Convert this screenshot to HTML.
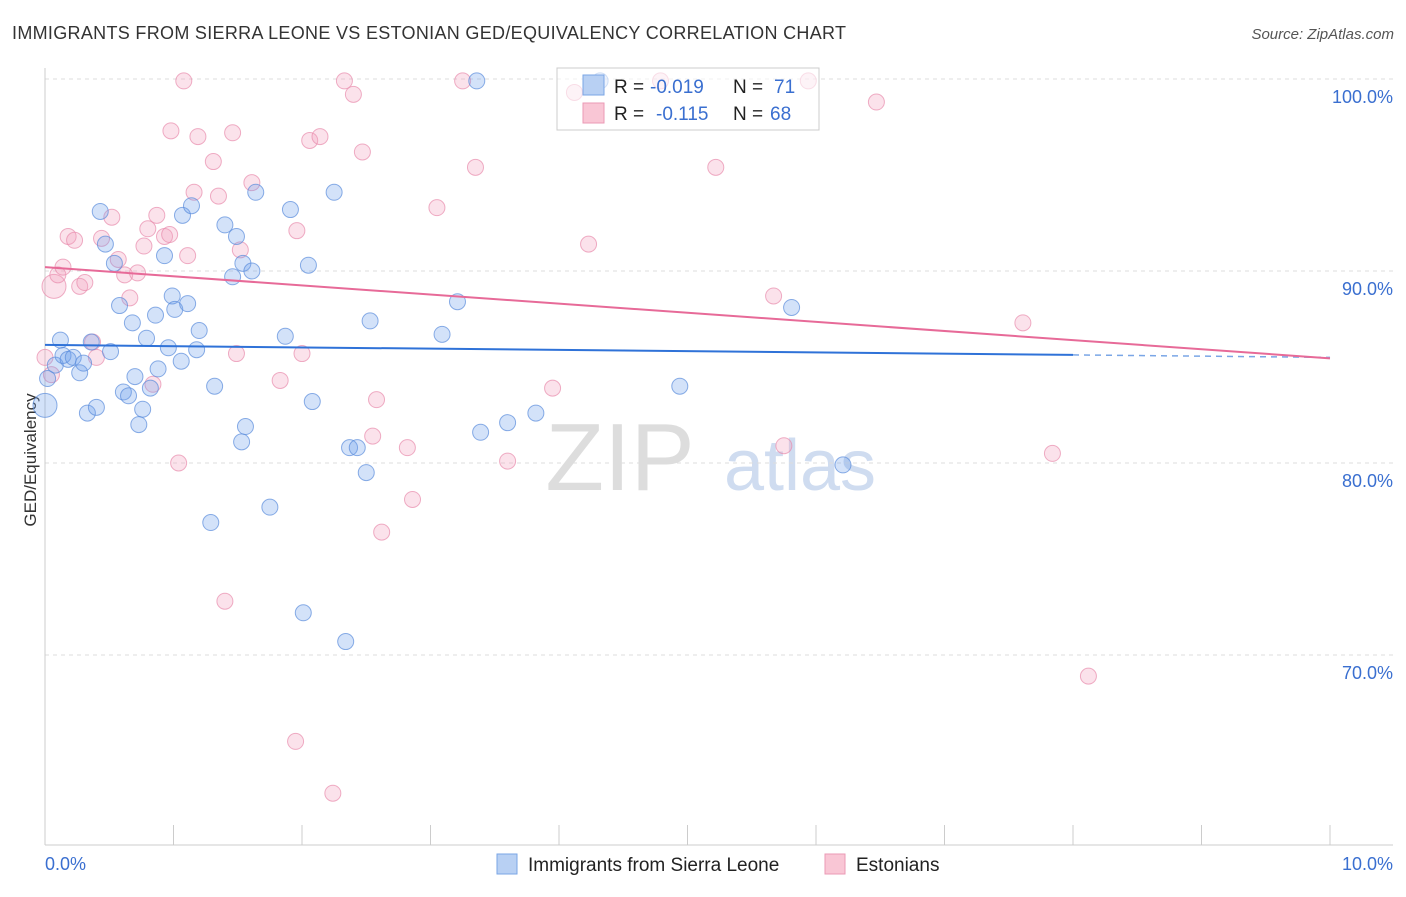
<!DOCTYPE html>
<html><head><meta charset="utf-8"><style>
body{margin:0;background:#fff;font-family:"Liberation Sans",sans-serif;}
svg text{font-family:"Liberation Sans",sans-serif;}
</style></head><body>
<svg id="c" width="1406" height="892" xmlns="http://www.w3.org/2000/svg">
<text x="12" y="39" font-size="18" fill="#333" textLength="834">IMMIGRANTS FROM SIERRA LEONE VS ESTONIAN GED/EQUIVALENCY CORRELATION CHART</text>
<text x="1394" y="39" font-size="15" fill="#555" font-style="italic" text-anchor="end">Source: ZipAtlas.com</text>
<text x="36" y="460" font-size="17" fill="#333" transform="rotate(-90 36 460)" text-anchor="middle">GED/Equivalency</text>
<text x="620" y="490" font-size="96" fill="#ddd" font-family="Liberation Serif" text-anchor="middle">ZIP</text>
<text x="800" y="490" font-size="72" fill="#cfdcf0" text-anchor="middle">atlas</text>
<g id="grid"></g><g id="pts"></g><g id="trend"></g>
<g>
<rect x="557" y="68" width="262" height="62" fill="rgba(255,255,255,0.6)" stroke="#ccc"/>
<rect x="583" y="75" width="21" height="20" fill="#b8d0f3" stroke="#7aa6e6"/>
<rect x="583" y="103" width="21" height="20" fill="#f9c6d5" stroke="#eb9ab5"/>
<text x="614" y="93" font-size="19" fill="#222">R =</text>
<text x="650" y="93" font-size="19" fill="#3a6fd0">-0.019</text>
<text x="733" y="93" font-size="19" fill="#222">N =</text>
<text x="774" y="93" font-size="19" fill="#3a6fd0">71</text>
<text x="614" y="120" font-size="19" fill="#222">R =</text>
<text x="656" y="120" font-size="19" fill="#3a6fd0">-0.115</text>
<text x="733" y="120" font-size="19" fill="#222">N =</text>
<text x="770" y="120" font-size="19" fill="#3a6fd0">68</text>
</g>
<g>
<rect x="497" y="854" width="20" height="20" fill="#b8d0f3" stroke="#7aa6e6"/>
<text x="528" y="871" font-size="19" fill="#222">Immigrants from Sierra Leone</text>
<rect x="825" y="854" width="20" height="20" fill="#f9c6d5" stroke="#eb9ab5"/>
<text x="856" y="871" font-size="19" fill="#222">Estonians</text>
</g>
<text x="45" y="870" font-size="18" fill="#3a6fd0">0.0%</text>
<text x="1393" y="870" font-size="18" fill="#3a6fd0" text-anchor="end">10.0%</text>
</svg>
<script>
const blueX=[0,0.02,0.08,0.12,0.14,0.18,0.22,0.27,0.30,0.33,0.40,0.36,0.43,0.47,0.51,0.54,0.58,0.61,0.65,0.68,0.70,0.73,0.76,0.79,0.82,0.86,0.88,0.93,0.96,0.99,1.01,1.07,1.06,1.11,1.14,1.18,1.20,1.29,1.32,1.40,1.46,1.49,1.53,1.54,1.56,1.61,1.64,1.75,1.87,1.91,2.01,2.05,2.08,2.25,2.34,2.37,2.43,2.50,2.53,3.09,3.21,3.36,3.39,3.60,3.82,4.32,4.94,5.81,6.21];
const blueY=[83.0,84.4,85.1,86.4,85.6,85.4,85.5,84.7,85.2,82.6,82.9,86.3,93.1,91.4,85.8,90.4,88.2,83.7,83.5,87.3,84.5,82.0,82.8,86.5,83.9,87.7,84.9,90.8,86.0,88.7,88.0,92.9,85.3,88.3,93.4,85.9,86.9,76.9,84.0,92.4,89.7,91.8,81.1,90.4,81.9,90.0,94.1,77.7,86.6,93.2,72.2,90.3,83.2,94.1,70.7,80.8,80.8,79.5,87.4,86.7,88.4,99.9,81.6,82.1,82.6,99.9,84.0,88.1,79.9];
const pinkX=[0,0.05,0.07,0.10,0.14,0.18,0.23,0.27,0.31,0.37,0.40,0.44,0.52,0.57,0.62,0.66,0.72,0.77,0.80,0.84,0.87,0.93,0.97,0.98,1.04,1.08,1.11,1.16,1.19,1.31,1.35,1.40,1.46,1.49,1.52,1.61,1.83,1.95,1.96,2.00,2.06,2.14,2.24,2.33,2.40,2.47,2.55,2.58,2.62,2.82,2.86,3.05,3.25,3.35,3.60,3.95,4.12,4.23,4.79,5.22,5.67,5.75,5.94,6.47,7.61,7.84,8.12];
const pinkY=[85.5,84.6,89.2,89.8,90.2,91.8,91.6,89.2,89.4,86.3,85.5,91.7,92.8,90.6,89.8,88.6,89.9,91.3,92.2,84.1,92.9,91.8,91.9,97.3,80.0,99.9,90.8,94.1,97.0,95.7,93.9,72.8,97.2,85.7,91.1,94.6,84.3,65.5,92.1,85.7,96.8,97.0,62.8,99.9,99.2,96.2,81.4,83.3,76.4,80.8,78.1,93.3,99.9,95.4,80.1,83.9,99.3,91.4,99.9,95.4,88.7,80.9,99.9,98.8,87.3,80.5,68.9];
const yTicks=[100,90,80,70];
const yTickLabels=["100.0%","90.0%","80.0%","70.0%"];
const blueTrend=[86.15,85.5];
const pinkTrend=[90.2,85.45];
const NS="http://www.w3.org/2000/svg";
const X=v=>45+v*128.5, Y=v=>79+(100-v)*19.2;
function mk(t,a,p){const e=document.createElementNS(NS,t);for(const k in a)e.setAttribute(k,a[k]);p.appendChild(e);return e;}
const g=document.getElementById('grid');
yTicks.forEach((t,i)=>{
 const l=mk('line',{x1:45,x2:1393,y1:Y(t),y2:Y(t),stroke:'#ddd','stroke-dasharray':'4,4'},g);
 
 
 const tx=mk('text',{x:1393,y:Y(t)+24,'font-size':18,fill:'#3a6fd0','text-anchor':'end'},g);
 tx.textContent=yTickLabels[i];
 
 
});
mk('line',{x1:45,x2:45,y1:68,y2:845,stroke:'#ccc'},g);
mk('line',{x1:45,x2:1393,y1:845,y2:845,stroke:'#ccc'},g);
for(let i=0;i<=10;i++){const t=mk('line',{x1:X(i),x2:X(i),y1:825,y2:845,stroke:'#ccc'},g);
 
 }
const p=document.getElementById('pts');
function pts(xs,ys,f,s,n){xs.forEach((x,i)=>{const r=(i===0&&n==='blue-point')||(i===2&&n==='pink-point')?12:8;
 const c=mk('circle',{cx:X(x),cy:Y(ys[i]),r:r,fill:f,stroke:s,'stroke-width':1},p);
 
 });}
pts(pinkX,pinkY,'rgba(243,160,190,0.3)','rgba(232,140,172,0.7)','pink-point');
pts(blueX,blueY,'rgba(110,160,235,0.3)','rgba(90,140,220,0.7)','blue-point');
const tr=document.getElementById('trend');
const bl=mk('line',{x1:X(0),y1:Y(blueTrend[0]),x2:X(8),y2:Y(blueTrend[0]+(blueTrend[1]-blueTrend[0])*0.8),stroke:'#2f72d8','stroke-width':2},tr);


const bd=mk('line',{x1:X(8),y1:Y(blueTrend[0]+(blueTrend[1]-blueTrend[0])*0.8),x2:X(10),y2:Y(blueTrend[1]),stroke:'#7aa6e6','stroke-width':1.5,'stroke-dasharray':'6,5'},tr);


const pl=mk('line',{x1:X(0),y1:Y(pinkTrend[0]),x2:X(10),y2:Y(pinkTrend[1]),stroke:'#e76a98','stroke-width':2},tr);


</script>
</body></html>
